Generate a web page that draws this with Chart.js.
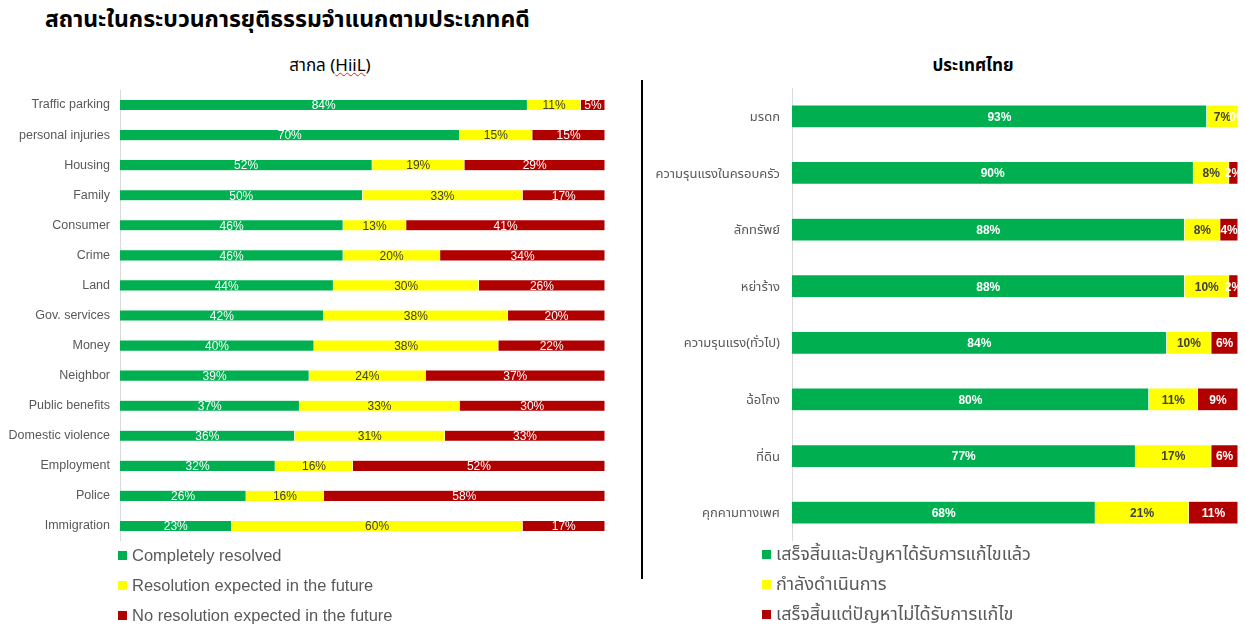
<!DOCTYPE html>
<html>
<head>
<meta charset="utf-8">
<script src="https://cdn.jsdelivr.net/npm/chart.js@4.4.0/dist/chart.umd.min.js"></script>
<style>
  body { margin: 0; width: 1245px; height: 627px; background: #fff; position: relative; overflow: hidden;
         font-family: "Noto Sans Thai", "Noto Sans", "Liberation Sans", sans-serif; }
  #title { position: absolute; left: 45px; top: 3px; font-size: 23px; font-weight: bold; color: #000; }
  .sub { position: absolute; top: 53px; font-size: 17px; color: #000; text-align: center; }
  #subLeft { left: 230px; width: 200px; }
  #subRight { left: 873px; width: 200px; font-weight: bold; }
  .wavy { text-decoration: underline wavy #e02020; text-decoration-thickness: 1px; }
  #divider { position: absolute; left: 641px; top: 80px; width: 2px; height: 499px; background: #000; }
  canvas { position: absolute; }
  #leftChart { left: 0; top: 90px; }
  #rightChart { left: 645px; top: 88px; }
  .legend { position: absolute; font-size: 18px; color: #595959; }
  .legend div { height: 30px; line-height: 30px; white-space: nowrap; }
  .legend span.box { display: inline-block; width: 9px; height: 9px; margin-right: 5px; vertical-align: middle; position: relative; top: -1px; }
  #legendLeft { left: 118px; top: 540px; font-family: "Liberation Sans", sans-serif; font-size: 16.5px; }
  #legendRight { left: 762px; top: 540px; }
</style>
</head>
<body>
<div id="title">สถานะในกระบวนการยุติธรรมจำแนกตามประเภทคดี</div>
<div class="sub" id="subLeft">สากล (<span class="wavy">HiiL</span>)</div>
<div class="sub" id="subRight">ประเทศไทย</div>
<div id="divider"></div>
<canvas id="leftChart" width="605" height="451"></canvas>
<canvas id="rightChart" width="600" height="453"></canvas>
<div class="legend" id="legendLeft"></div>
<div class="legend" id="legendRight"></div>
<script>
// สากล (HiiL)
const intlCategories = [
  "Traffic parking", "personal injuries", "Housing", "Family", "Consumer", "Crime", "Land",
  "Gov. services", "Money", "Neighbor", "Public benefits", "Domestic violence", "Employment",
  "Police", "Immigration"
];
const intlResolved = [84, 70, 52, 50, 46, 46, 44, 42, 40, 39, 37, 36, 32, 26, 23];
const intlExpected = [11, 15, 19, 33, 13, 20, 30, 38, 38, 24, 33, 31, 16, 16, 60];
const intlNoResolution = [5, 15, 29, 17, 41, 34, 26, 20, 22, 37, 30, 33, 52, 58, 17];
const intlSeries = ["Completely resolved", "Resolution expected in the future", "No resolution expected in the future"];

// ประเทศไทย
const thaiCategories = [
  "มรดก", "ความรุนแรงในครอบครัว", "ลักทรัพย์", "หย่าร้าง", "ความรุนแรง(ทั่วไป)",
  "ฉ้อโกง", "ที่ดิน", "คุกคามทางเพศ"
];
const thaiResolved = [93, 90, 88, 88, 84, 80, 77, 68];
const thaiInProgress = [7, 8, 8, 10, 10, 11, 17, 21];
const thaiUnresolved = [0, 2, 4, 2, 6, 9, 6, 11];
const thaiSeries = ["เสร็จสิ้นและปัญหาได้รับการแก้ไขแล้ว", "กำลังดำเนินการ", "เสร็จสิ้นแต่ปัญหาไม่ได้รับการแก้ไข"];

const colors = ["#00B050", "#FFFF00", "#B00000"];

const barLabels = {
  id: "barLabels",
  afterDatasetsDraw(chart, args, opts) {
    const ctx = chart.ctx;
    ctx.save();
    ctx.font = opts.font;
    ctx.textAlign = "center";
    ctx.textBaseline = "middle";
    chart.data.datasets.forEach((ds, i) => {
      const meta = chart.getDatasetMeta(i);
      meta.data.forEach((bar, j) => {
        const v = ds.data[j];
        if (v == null) return;
        ctx.fillStyle = opts.colors[i];
        ctx.fillText(v + "%", (bar.x + bar.base) / 2, bar.y + 1);
      });
    });
    ctx.restore();
  }
};

function makeChart(id, labels, series, values, opt) {
  return new Chart(document.getElementById(id), {
    type: "bar",
    data: {
      labels: labels,
      datasets: values.map((d, i) => ({
        label: series[i],
        data: d,
        backgroundColor: colors[i],
        borderColor: "rgba(255,255,255,0.35)",
        borderWidth: 0.5,
        barPercentage: opt.barPct,
        categoryPercentage: 1
      }))
    },
    options: {
      indexAxis: "y",
      responsive: false,
      animation: false,
      layout: { padding: { left: 0, right: opt.padRight, top: 0, bottom: 0 } },
      plugins: {
        legend: { display: false },
        tooltip: { enabled: false },
        barLabels: { font: opt.labelFont, colors: opt.labelColors }
      },
      scales: {
        x: { stacked: true, min: 0, max: 100, display: false },
        y: {
          stacked: true,
          afterFit: (scale) => {
            scale.width = opt.axisWidth;
            scale.paddingTop = 0;
            scale.paddingBottom = 0;
          },
          grid: { display: false, drawTicks: false },
          border: { display: true, color: "#d9d9d9", width: 1 },
          ticks: {
            padding: opt.tickPad,
            labelOffset: opt.labelOffset,
            color: "#595959",
            font: { family: opt.tickFamily, size: opt.tickSize }
          }
        }
      }
    },
    plugins: [barLabels]
  });
}

makeChart("leftChart", intlCategories, intlSeries, [intlResolved, intlExpected, intlNoResolution], {
  barPct: 0.37, padRight: 0, axisWidth: 120, tickPad: 10, labelOffset: 0,
  tickFamily: "'Liberation Sans', sans-serif", tickSize: 12.5,
  labelFont: "12px 'Liberation Sans', sans-serif",
  labelColors: ["#ffffff", "#404040", "#ffffff"]
});

makeChart("rightChart", thaiCategories, thaiSeries, [thaiResolved, thaiInProgress, thaiUnresolved], {
  barPct: 0.40, padRight: 7, axisWidth: 147, tickPad: 12, labelOffset: 2,
  tickFamily: "'Noto Sans Thai', 'Noto Sans', sans-serif", tickSize: 13,
  labelFont: "bold 12px 'Liberation Sans', sans-serif",
  labelColors: ["#ffffff", "#404040", "#ffffff"]
});

function buildLegend(id, names) {
  const el = document.getElementById(id);
  names.forEach((name, i) => {
    const row = document.createElement("div");
    const box = document.createElement("span");
    box.className = "box";
    box.style.background = colors[i];
    row.appendChild(box);
    row.appendChild(document.createTextNode(name));
    el.appendChild(row);
  });
}
buildLegend("legendLeft", intlSeries);
buildLegend("legendRight", thaiSeries);
</script>
</body>
</html>
